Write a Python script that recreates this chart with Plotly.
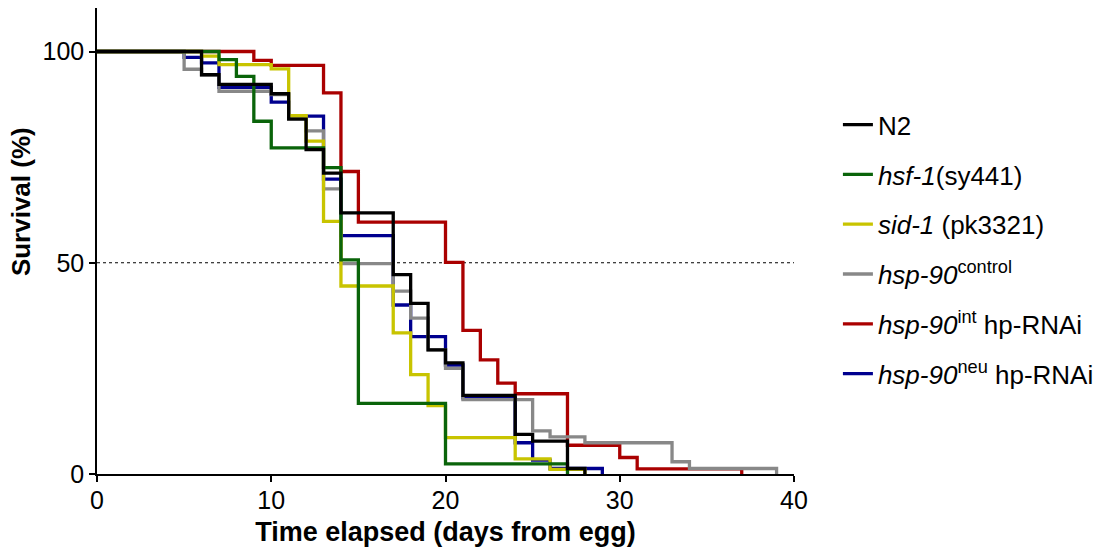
import plotly.graph_objects as go

# ---- data (days from egg, survival %) ----
n2_days = [0, 6, 7, 10, 11, 12, 13, 14, 17, 18, 19, 20, 21, 24, 25, 27, 28]
n2_surv = [100, 94.5, 92.2, 90.0, 84.0, 76.8, 71.2, 61.8, 47.2, 40.4, 29.4, 26.3, 18.6, 9.4, 7.8, 1.3, 0]

hsf1_days = [0, 7, 8, 9, 10, 13, 14, 15, 20, 27]
hsf1_surv = [100, 98.1, 94.1, 83.5, 77.2, 72.5, 50.7, 16.7, 2.4, 0]

sid1_days = [0, 6, 7, 10, 11, 12, 13, 14, 17, 18, 19, 20, 24, 26, 28]
sid1_surv = [100, 98.9, 96.9, 95.9, 84.8, 78.8, 59.8, 44.5, 33.4, 23.5, 16.2, 8.6, 3.6, 1.1, 0]

ctrl_days = [0, 5, 6, 7, 10, 11, 12, 13, 14, 17, 18, 19, 20, 21, 25, 26, 28, 33, 34, 39]
ctrl_surv = [100, 95.8, 94.5, 90.6, 89.8, 84.5, 81.2, 67.5, 49.8, 43.3, 36.9, 29.4, 25.0, 17.6, 10.2, 8.8, 7.4, 2.9, 1.3, 0]

int_days = [0, 9, 10, 13, 14, 15, 20, 21, 22, 23, 24, 27, 30, 31, 37]
int_surv = [100, 97.9, 96.7, 90.2, 71.6, 59.6, 50.1, 34.0, 27.0, 21.5, 19.0, 6.8, 3.9, 1.2, 0]

neu_days = [0, 5, 6, 7, 10, 11, 13, 14, 17, 18, 20, 21, 24, 25, 26, 29]
neu_surv = [100, 98.6, 97.3, 91.5, 88.0, 84.7, 69.8, 56.4, 40.0, 32.5, 25.8, 18.0, 7.4, 3.3, 1.3, 0]

series_names = [
    "N2",
    "<i>hsf-1</i>(sy441)",
    "<i>sid-1</i> (pk3321)",
    "<i>hsp-90</i><sup>control</sup>",
    "<i>hsp-90</i><sup>int</sup> hp-RNAi",
    "<i>hsp-90</i><sup>neu</sup> hp-RNAi",
]
series_x = [n2_days, hsf1_days, sid1_days, ctrl_days, int_days, neu_days]
series_y = [n2_surv, hsf1_surv, sid1_surv, ctrl_surv, int_surv, neu_surv]
series_colors = ["#000000", "#0a640a", "#c8c400", "#888888", "#aa0000", "#00008f"]

x_ticks = [0, 10, 20, 30, 40]
y_ticks = [0, 50, 100]
median_x = [0, 40]
median_y = [50, 50]

FONT = "Liberation Sans, Arial, sans-serif"

fig = go.Figure()

# 50% reference line
fig.add_trace(go.Scatter(x=median_x, y=median_y, mode="lines",
                         line=dict(color="black", width=1, dash="dot"),
                         showlegend=False, hoverinfo="skip"))

# draw in reverse so N2 is on top; legend order kept via legendrank
for i in reversed(range(len(series_names))):
    fig.add_trace(go.Scatter(
        x=series_x[i], y=series_y[i], mode="lines",
        line=dict(color=series_colors[i], width=3.3, shape="hv"),
        name=series_names[i], legendgroup=f"g{i}", legendrank=i + 1,
    ))

fig.update_layout(
    width=1109, height=551,
    margin=dict(l=97, r=315, t=8, b=77),
    plot_bgcolor="white", paper_bgcolor="white",
    font=dict(family=FONT, size=24, color="black"),
    showlegend=True,
    legend=dict(
        traceorder="grouped", tracegroupgap=13,
        x=1.063, xanchor="left", y=0.80, yanchor="top",
        font=dict(family=FONT, size=26, color="black"),
        bgcolor="rgba(0,0,0,0)", itemwidth=30,
    ),
    xaxis=dict(
        range=[0, 40], tickvals=x_ticks, ticks="outside", ticklen=6, tickwidth=1.5,
        tickcolor="black", showline=True, linecolor="black", linewidth=1.5,
        showgrid=False, zeroline=False, ticklabelstandoff=-3,
        tickfont=dict(family=FONT, size=25),
        title=dict(text="<b>Time elapsed (days from egg)</b>",
                   font=dict(family=FONT, size=27), standoff=9),
    ),
    yaxis=dict(
        range=[0, 110.3], tickvals=y_ticks, ticks="outside", ticklen=6, tickwidth=1.5,
        tickcolor="black", showline=True, linecolor="black", linewidth=1.5,
        showgrid=False, zeroline=False,
        tickfont=dict(family=FONT, size=25),
    ),
    annotations=[dict(
        text="<b>Survival (%)</b>", xref="paper", yref="paper",
        x=-0.108, y=0.585, xanchor="center", yanchor="middle",
        textangle=-90, showarrow=False, font=dict(family=FONT, size=26),
    )],
)

fig.write_html("out.html")
